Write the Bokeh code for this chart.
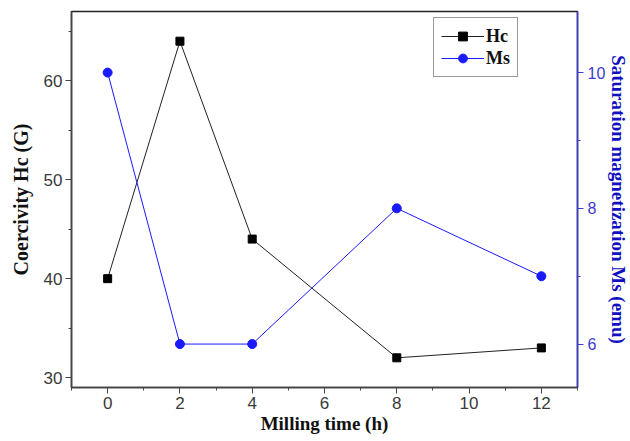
from bokeh.plotting import figure
from bokeh.models import Range1d, LinearAxis, SingleIntervalTicker, Legend, LegendItem
from bokeh.embed import file_html
from bokeh.resources import INLINE

milling_time = [0, 2, 4, 8, 12]
hc = [40, 64, 44, 32, 33]
ms = [10, 6, 6, 8, 7]

BLUE = "#1a1aff"
AXBLUE = "#3b3bd0"

p = figure(frame_width=506, frame_height=376, output_backend="svg", toolbar_location=None,
           x_range=Range1d(-1, 13), y_range=Range1d(29, 67),
           min_border_left=71, min_border_right=52, min_border_top=11, min_border_bottom=53)
p.extra_y_ranges = {"ms": Range1d(5.36, 10.9)}
p.grid.visible = False
p.outline_line_color = "#222222"
p.outline_line_width = 1.5
p.background_fill_color = "white"
p.border_fill_color = "white"

def style(ax, color, label_color, tick_color):
    ax.axis_line_color = color
    ax.axis_line_width = 1.5
    ax.major_tick_line_color = color
    ax.minor_tick_line_color = color
    ax.major_tick_out = 6
    ax.major_tick_in = 0
    ax.minor_tick_out = 3
    ax.minor_tick_in = 0
    ax.major_label_text_font = "Liberation Sans"
    ax.major_label_text_font_size = "17px"
    ax.major_label_text_color = tick_color
    ax.axis_label_text_font = "Liberation Serif"
    ax.axis_label_text_font_style = "bold"
    ax.axis_label_text_font_size = "19px"
    ax.axis_label_text_color = label_color

p.xaxis.ticker = SingleIntervalTicker(interval=2, num_minor_ticks=2)
p.xaxis.axis_label = "Milling time (h)"
style(p.xaxis[0], "#444444", "#111111", "#3a3a3a")
p.xaxis.major_label_standoff = 3
p.xaxis.axis_label_standoff = 1

p.yaxis.ticker = SingleIntervalTicker(interval=10, num_minor_ticks=2)
p.yaxis.axis_label = "Coercivity Hc (G)"
style(p.yaxis[0], "#444444", "#111111", "#3a3a3a")
p.yaxis.major_label_standoff = 3
p.yaxis.axis_label_standoff = 9
p.yaxis.axis_label_text_font_size = "20px"

rax = LinearAxis(y_range_name="ms", axis_label="Saturation magnetization Ms (emu)",
                 ticker=SingleIntervalTicker(interval=2, num_minor_ticks=2))
style(rax, AXBLUE, "#1010c0", AXBLUE)
rax.major_label_standoff = 4
rax.major_label_text_font_size = "16px"
rax.axis_label_standoff = 0
rax.axis_label_text_font_size = "19px"
p.add_layout(rax, "right")

l1 = p.line(milling_time, hc, line_color="#222222", line_width=1)
s1 = p.scatter(milling_time, hc, marker="square", size=8, fill_color="black", line_color="black")
l2 = p.line(milling_time, ms, line_color=BLUE, line_width=1, y_range_name="ms")
s2 = p.scatter(milling_time, ms, marker="circle", size=9, fill_color=BLUE, line_color=BLUE, y_range_name="ms")

legend = Legend(items=[LegendItem(label="Hc", renderers=[l1, s1]),
                       LegendItem(label="Ms", renderers=[l2, s2])],
                location="top_right")
legend.label_text_font = "Liberation Serif"
legend.label_text_font_style = "bold"
legend.label_text_font_size = "18px"
legend.label_text_color = "#111111"
legend.border_line_color = "#333333"
legend.border_line_width = 1.5
legend.glyph_width = 43
legend.glyph_height = 22
legend.spacing = 0
legend.padding = 7
legend.margin = 0
legend.label_standoff = 2
legend.label_height = 22
p.add_layout(legend, "center")
legend.location = (362, 310)

open("out.html", "w").write(file_html(p, INLINE))
